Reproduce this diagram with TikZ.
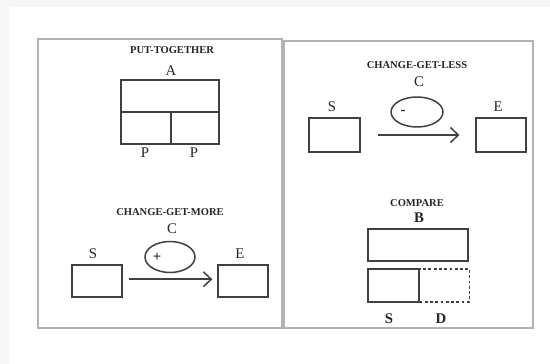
\documentclass[tikz,border=0pt]{standalone}
\usepackage{fontspec}
\setmainfont{Liberation Serif}
\usetikzlibrary{arrows.meta, shapes.geometric}

\tikzset{
  panel/.style={draw=gray!60, line width=0.75pt},
  box/.style={draw=black!75, line width=0.85pt, inner sep=0pt,
              minimum width=1cm, minimum height=0.64cm},
  oval/.style={ellipse, draw=black!75, line width=0.85pt, inner sep=0pt,
               minimum width=1cm, minimum height=0.62cm},
  ttl/.style={font=\fontsize{6}{6}\selectfont\bfseries, text=black!85},
  lbl/.style={font=\fontsize{8.4}{9}\selectfont, text=black!85},
  arr/.style={draw=black!75, line width=0.85pt,
              -{Straight Barb[length=4.5pt,width=8.5pt,line width=0.85pt]}}
}

\begin{document}
\begin{tikzpicture}[x=0.02cm, y=-0.02cm]
  \useasboundingbox (0,0) rectangle (550,364);
  \fill[gray!7] (0,0) rectangle (550,364);
  \fill[white] (9,7) rectangle (550,364);
  % two panels
  \draw[panel] (38,39) rectangle (282,328);
  \draw[panel] (284,41) rectangle (533,328);

  % put-together
  \node[ttl] (tput) at (172,50) {PUT-TOGETHER};
  \node[lbl] (la) at (171,71) {A};
  \node[box, minimum width=1.96cm] (whole) at (170,96) {};
  \node[box, minimum width=1cm] (part1) at (146,128) {};
  \node[box, minimum width=0.96cm] (part2) at (195,128) {};
  \node[lbl] (lp1) at (145,153) {P};
  \node[lbl] (lp2) at (194,153) {P};

  % change-get-more
  \node[ttl] (tmore) at (170,212) {CHANGE-GET-MORE};
  \node[lbl] (lc1) at (172,229) {C};
  \node[oval] (c1) at (170,257) {};
  \node[lbl, font=\fontsize{8.4}{9}\selectfont\bfseries] (plus) at (157,257) {+};
  \node[lbl] (ls1) at (93,254) {S};
  \node[box] (s1) at (97,281) {};
  \node[lbl] (le1) at (240,254) {E};
  \node[box] (e1) at (243,281) {};
  \draw[arr, shorten <=3.4pt, shorten >=2.8pt] ([yshift=1pt]s1.east) -- ([yshift=1pt]e1.west);

  % change-get-less
  \node[ttl] (tless) at (417,65) {CHANGE-GET-LESS};
  \node[lbl] (lc2) at (419,82) {C};
  \node[oval, minimum width=1.04cm, minimum height=0.6cm] (c2) at (417,112) {};
  \node[lbl, font=\fontsize{8.4}{9}\selectfont\bfseries] (minus) at (403,112) {-};
  \node[lbl] (ls2) at (332,107) {S};
  \node[box, minimum width=1.02cm, minimum height=0.68cm] (s2) at (334.5,135) {};
  \node[lbl] (le2) at (498,107) {E};
  \node[box, minimum width=1cm, minimum height=0.68cm] (e2) at (501,135) {};
  \draw[arr, shorten <=9.6pt, shorten >=9pt] (s2.east) -- (e2.west);

  % compare
  \node[ttl] (tcomp) at (417,203) {COMPARE};
  \node[lbl, font=\fontsize{8.4}{9}\selectfont\bfseries] (lb) at (419,218) {B};
  \node[box, minimum width=2cm] (big) at (418,245) {};
  \node[box, minimum width=1.02cm, minimum height=0.66cm] (small) at (393.5,285.5) {};
  \node[box, dash pattern=on 1.6pt off 1.4pt, minimum width=1cm, minimum height=0.66cm] (diff) at (444.5,285.5) {};
  \node[lbl, font=\fontsize{8.4}{9}\selectfont\bfseries] (ls3) at (389,319) {S};
  \node[lbl, font=\fontsize{8.4}{9}\selectfont\bfseries] (ld) at (441,319) {D};
\end{tikzpicture}
\end{document}
